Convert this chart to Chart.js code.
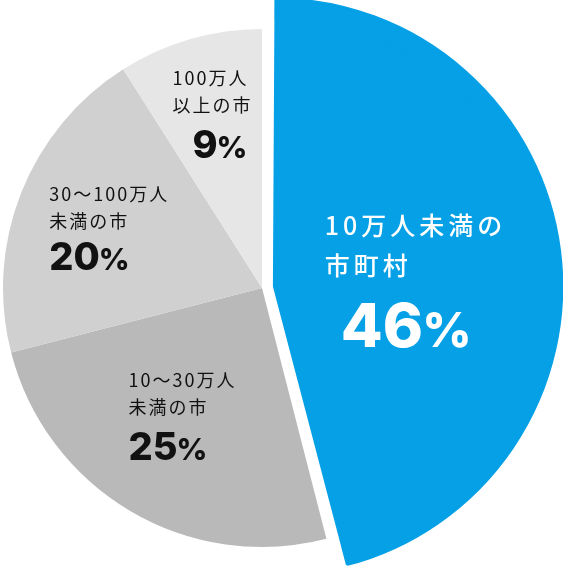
<!DOCTYPE html>
<html lang="ja">
<head>
<meta charset="utf-8">
<script src="https://cdn.jsdelivr.net/npm/chart.js@4.4.1/dist/chart.umd.min.js"></script>
<style>
  html, body { margin: 0; padding: 0; background: #fff; }
  #wrap { width: 563px; height: 570px; }
</style>
</head>
<body>
<div id="wrap"><canvas id="pie" width="563" height="570"></canvas></div>
<script>
const categories = ['10万人未満の市町村', '10～30万人未満の市', '30～100万人未満の市', '100万人以上の市']
const labelLines = [['10万人未満の', '市町村'], ['10～30万人', '未満の市'], ['30～100万人', '未満の市'], ['100万人', '以上の市']]
const shares = [46, 25, 20, 9]
const sliceColors = ['#05a0e6', '#b9b9b9', '#d0d0d0', '#e6e6e6']

// how each label block sits inside its slice
const labelStyle = [
    { r: 0.59, dx: 0, dy: 11, size: 25, weight: 500, spacing: 4, lineGap: 40, pctGap: 100, pctSize: 61, pctIndent: 16, color: '#ffffff' },
    { r: 0.58, dx: -4, dy: -2, size: 18, weight: 400, spacing: 2, lineGap: 27, pctGap: 66, pctSize: 38, pctIndent: 0, color: '#111111' },
    { r: 0.63, dx: -2, dy: 0, size: 18, weight: 400, spacing: 2, lineGap: 27, pctGap: 62, pctSize: 38, pctIndent: 0, color: '#111111' },
    { r: 0.70, dx: 0, dy: 0, size: 18, weight: 400, spacing: 2, lineGap: 27, pctGap: 66, pctSize: 38, pctIndent: 20, color: '#111111' }
]

const transparent = 'rgba(0,0,0,0)'
const blueOnly = sliceColors.map((c, i) => i === 0 ? c : transparent)
const pulled = shares.map((v, i) => i === 0 ? 50 : 0)
const blueEdge = shares.map((v, i) => i === 0 ? 3 : 0)

const pctLabels = {
    id: 'pctLabels',
    afterDatasetsDraw(chart) {
        const ctx = chart.ctx
        const meta = chart.getDatasetMeta(1)
        meta.data.forEach((arc, i) => {
            const st = labelStyle[i]
            const mid = (arc.startAngle + arc.endAngle) / 2
            const cx = arc.x + Math.cos(mid) * arc.outerRadius * st.r + st.dx
            const cy = arc.y + Math.sin(mid) * arc.outerRadius * st.r + st.dy

            ctx.save()
            ctx.fillStyle = st.color
            ctx.textAlign = 'left'

            const textFont = `${st.weight} ${st.size}px 'Noto Sans CJK JP', sans-serif`
            const numFont = `800 ${st.pctSize}px Inter, sans-serif`
            const sigFont = `800 ${Math.round(st.pctSize * 0.78)}px Inter, sans-serif`

            ctx.font = textFont
            ctx.letterSpacing = st.spacing + 'px'
            const textW = Math.max(...labelLines[i].map(l => ctx.measureText(l).width - st.spacing))

            ctx.letterSpacing = '0px'
            ctx.font = numFont
            const numW = ctx.measureText(String(shares[i])).width
            ctx.font = sigFont
            const sigW = ctx.measureText('%').width

            const blockW = Math.max(textW, st.pctIndent + numW + sigW)
            const capH = st.pctSize * 0.727
            const top = -st.size / 2
            const bottom = st.pctGap + capH / 2
            const left = cx - blockW / 2
            const y0 = cy - (top + bottom) / 2

            ctx.font = textFont
            ctx.letterSpacing = st.spacing + 'px'
            ctx.textBaseline = 'middle'
            labelLines[i].forEach((line, k) => {
                ctx.fillText(line, left, y0 + k * st.lineGap)
            })

            ctx.letterSpacing = '0px'
            ctx.textBaseline = 'alphabetic'
            const base = y0 + st.pctGap + capH / 2
            ctx.font = numFont
            ctx.fillText(String(shares[i]), left + st.pctIndent, base)
            ctx.font = sigFont
            ctx.fillText('%', left + st.pctIndent + numW - 1, base)
            ctx.restore()
        })
    }
}

new Chart(document.getElementById('pie'), {
    type: 'pie',
    data: {
        labels: categories,
        datasets: [
            {
                data: shares,
                backgroundColor: blueOnly,
                borderColor: blueOnly,
                borderWidth: blueEdge,
                offset: pulled,
                weight: 19
            },
            {
                data: shares,
                backgroundColor: sliceColors,
                borderColor: blueOnly,
                borderWidth: blueEdge,
                offset: pulled,
                weight: 259
            }
        ]
    },
    options: {
        responsive: false,
        animation: false,
        events: [],
        radius: 278,
        layout: { padding: { left: 0, right: 39, top: 6, bottom: 0 } },
        plugins: {
            legend: { display: false },
            tooltip: { enabled: false }
        }
    },
    plugins: [pctLabels]
})
</script>
</body>
</html>
